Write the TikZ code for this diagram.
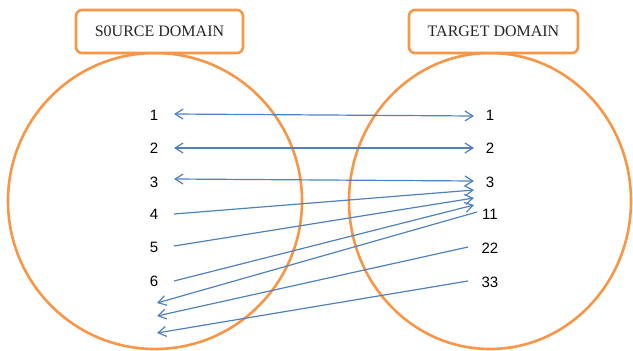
\documentclass[tikz,border=0pt]{standalone}
\usepackage{fontspec}
\setmainfont{Liberation Serif}
\newfontfamily\numfont{Liberation Sans}
\usetikzlibrary{arrows.meta}
\definecolor{ringorange}{RGB}{247,150,70}
\definecolor{linkblue}{RGB}{79,129,189}
\begin{document}
\begin{tikzpicture}[x=1pt,y=-1pt,
  ring/.style={draw=ringorange,line width=2.6pt},
  titlebox/.style={draw=ringorange,line width=2.6pt,fill=white,rounded corners=6pt,
    minimum width=167pt,minimum height=43pt,inner sep=0pt,
    font=\fontsize{16}{18}\selectfont,text=black!85},
  num/.style={font=\numfont\fontsize{15}{17}\selectfont,inner sep=0pt,text=black},
  link/.style={draw=linkblue,line width=1.2pt},
  barb/.tip={Straight Barb[length=8pt,width=10pt]},
  tip/.style={-barb},
  both/.style={barb-barb}]
\useasboundingbox (0,0) rectangle (633,351);

% the two domains
\draw[ring] (155,201) ellipse [x radius=147, y radius=148];
\draw[ring] (490,201) ellipse [x radius=141, y radius=148];

% titles
\node[titlebox] (src) at (159.5,31.5) {S0URCE DOMAIN};
\node[titlebox,minimum width=169pt] (tgt) at (493.5,31.5) {TARGET DOMAIN};

% source elements
\node[num] (s1) at (154,115) {1};
\node[num] (s2) at (154,148) {2};
\node[num] (s3) at (154,182) {3};
\node[num] (s4) at (154,214) {4};
\node[num] (s5) at (154,247) {5};
\node[num] (s6) at (154,281) {6};

% target elements
\node[num] (t1) at (490,115) {1};
\node[num] (t2) at (490,148) {2};
\node[num] (t3) at (490,182) {3};
\node[num] (t11) at (490,214) {11};
\node[num] (t22) at (490,248) {22};
\node[num] (t33) at (490,282) {33};

% free ends of the backward links
\coordinate (b1) at (157,303);
\coordinate (b2) at (157,316);
\coordinate (b3) at (157,333);

% links
\draw[link,both] ([shift={(20,-1)}]s1.center) -- ([shift={(-16,1)}]t1.center);
\draw[link,both] ([shift={(20,0)}]s2.center) -- ([shift={(-16,0)}]t2.center);
\draw[link,both] ([shift={(20,-3)}]s3.center) -- ([shift={(-16,-1)}]t3.center);
\draw[link,tip] ([shift={(20,0)}]s4.center) -- ([shift={(-16,8)}]t3.center);
\draw[link,tip] ([shift={(20,-1)}]s5.center) -- ([shift={(-16,16)}]t3.center);
\draw[link,tip] ([shift={(20,0)}]s6.center) -- ([shift={(-16,23)}]t3.center);
\draw[link,tip] ([shift={(-13,-2)}]t11.center) -- (b1);
\draw[link,tip] ([shift={(-22,-1)}]t22.center) -- (b2);
\draw[link,tip] ([shift={(-22,-1)}]t33.center) -- (b3);
\end{tikzpicture}
\end{document}
